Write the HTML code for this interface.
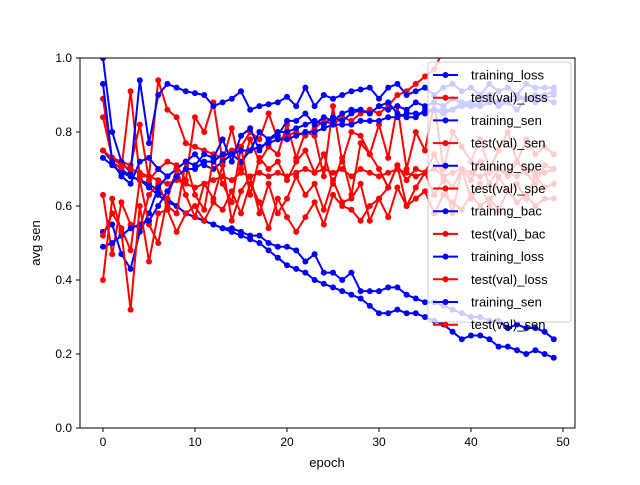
<!DOCTYPE html>
<html><head><meta charset="utf-8"><style>
body{margin:0;background:#fff}
svg{font-family:"Liberation Sans","DejaVu Sans",sans-serif}
</style></head><body>
<svg id="c" width="640" height="480" xmlns="http://www.w3.org/2000/svg">
<rect width="640" height="480" fill="#fff"/>
<defs><clipPath id="clip"><rect x="80" y="58" width="495" height="370"/></clipPath></defs>
<g id="plot" clip-path="url(#clip)"></g>
<rect x="80" y="58" width="495" height="370" fill="none" stroke="#000" stroke-width="1"/>
<g id="axes"></g>
<g id="legend"></g>
<text x="327" y="467" font-size="13" text-anchor="middle">epoch</text>
<text x="0" y="0" font-size="13" text-anchor="middle" transform="translate(40,243) rotate(-90)">avg sen</text>
</svg>
<script>
const epochs = Array.from({length:50},(_, i)=>i);
const xTicks = [0,10,20,30,40,50];
const yTicks = [0.0,0.2,0.4,0.6,0.8,1.0];
const yTickLabels = ["0.0","0.2","0.4","0.6","0.8","1.0"];
const legendLabels = ["training_loss","test(val)_loss","training_sen","test(val)_sen","training_spe","test(val)_spe","training_bac","test(val)_bac","training_loss","test(val)_loss","training_sen","test(val)_sen"];
const legendColors = ["blue","red","blue","red","blue","red","blue","red","blue","red","blue","red"];

const b1 = [0.75,0.72,0.70,0.68,0.67,0.65,0.63,0.61,0.60,0.58,0.57,0.56,0.55,0.54,0.53,0.52,0.51,0.50,0.48,0.46,0.44,0.43,0.42,0.40,0.39,0.38,0.37,0.36,0.35,0.33,0.31,0.31,0.32,0.31,0.31,0.30,0.29,0.28,0.26,0.24,0.25,0.25,0.24,0.22,0.22,0.21,0.20,0.21,0.20,0.19];
const b2 = [0.73,0.71,0.69,0.68,0.67,0.66,0.64,0.62,0.60,0.58,0.57,0.56,0.55,0.54,0.54,0.53,0.52,0.52,0.50,0.49,0.49,0.48,0.45,0.47,0.42,0.42,0.40,0.42,0.37,0.37,0.37,0.38,0.38,0.36,0.35,0.34,0.34,0.33,0.32,0.31,0.30,0.30,0.29,0.29,0.27,0.28,0.27,0.27,0.26,0.24];
const b3 = [1.00,0.80,0.72,0.69,0.94,0.77,0.90,0.93,0.92,0.91,0.905,0.90,0.87,0.88,0.89,0.91,0.86,0.87,0.875,0.88,0.895,0.87,0.92,0.87,0.90,0.89,0.90,0.91,0.915,0.92,0.89,0.92,0.93,0.90,0.91,0.92,0.90,0.92,0.93,0.91,0.92,0.90,0.93,0.91,0.92,0.90,0.93,0.92,0.92,0.92];
const b4 = [0.93,0.72,0.68,0.66,0.72,0.73,0.70,0.68,0.70,0.72,0.74,0.71,0.70,0.72,0.74,0.72,0.75,0.80,0.78,0.80,0.80,0.81,0.82,0.83,0.82,0.84,0.83,0.85,0.86,0.85,0.87,0.86,0.87,0.86,0.88,0.87,0.88,0.87,0.89,0.88,0.88,0.89,0.90,0.88,0.89,0.90,0.89,0.90,0.90,0.91];
const b5 = [0.53,0.55,0.47,0.43,0.53,0.58,0.65,0.68,0.70,0.72,0.71,0.74,0.73,0.78,0.72,0.79,0.81,0.75,0.78,0.79,0.83,0.83,0.85,0.82,0.84,0.83,0.85,0.86,0.86,0.85,0.87,0.88,0.85,0.84,0.84,0.86,0.86,0.85,0.86,0.88,0.87,0.88,0.89,0.87,0.88,0.86,0.89,0.88,0.89,0.88];
const b6 = [0.49,0.50,0.52,0.54,0.55,0.56,0.60,0.64,0.68,0.70,0.70,0.72,0.72,0.74,0.74,0.75,0.75,0.76,0.77,0.78,0.78,0.79,0.80,0.80,0.81,0.82,0.82,0.82,0.83,0.83,0.83,0.84,0.84,0.85,0.85,0.85,0.86,0.86,0.86,0.87,0.87,0.87,0.88,0.88,0.88,0.89,0.89,0.89,0.89,0.90];
const r1 = [0.89,0.72,0.70,0.91,0.68,0.68,0.94,0.86,0.84,0.77,0.76,0.75,0.74,0.73,0.75,0.76,0.80,0.78,0.85,0.78,0.79,0.80,0.79,0.81,0.83,0.82,0.84,0.83,0.85,0.86,0.85,0.87,0.90,0.91,0.93,0.95,0.97,1.02,1.06,1.10,1.12,1.14,1.16,1.18,1.20,1.22,1.24,1.26,1.28,1.30];
const r2 = [0.84,0.73,0.72,0.71,0.82,0.67,0.70,0.72,0.71,0.67,0.84,0.80,0.88,0.72,0.81,0.70,0.78,0.72,0.76,0.74,0.82,0.73,0.80,0.79,0.68,0.87,0.72,0.80,0.79,0.74,0.82,0.73,0.87,0.70,0.80,0.75,0.88,0.70,0.80,0.76,0.72,0.78,0.70,0.75,0.80,0.72,0.78,0.74,0.76,0.74];
const r3 = [0.75,0.73,0.71,0.70,0.69,0.68,0.67,0.66,0.67,0.66,0.65,0.66,0.67,0.68,0.67,0.69,0.68,0.69,0.68,0.69,0.68,0.69,0.70,0.69,0.70,0.69,0.70,0.68,0.70,0.69,0.68,0.69,0.70,0.69,0.68,0.69,0.70,0.68,0.69,0.70,0.69,0.68,0.69,0.70,0.69,0.68,0.70,0.69,0.69,0.70];
const r4 = [0.63,0.47,0.61,0.55,0.54,0.63,0.66,0.60,0.58,0.72,0.63,0.59,0.73,0.66,0.61,0.76,0.63,0.73,0.70,0.72,0.67,0.72,0.75,0.69,0.74,0.66,0.73,0.63,0.77,0.74,0.70,0.65,0.71,0.67,0.70,0.69,0.74,0.68,0.65,0.70,0.67,0.72,0.66,0.70,0.68,0.72,0.69,0.66,0.71,0.70];
const r5 = [0.52,0.58,0.54,0.48,0.67,0.55,0.50,0.62,0.70,0.63,0.57,0.66,0.62,0.71,0.56,0.64,0.68,0.58,0.66,0.58,0.62,0.68,0.63,0.66,0.59,0.67,0.61,0.62,0.66,0.56,0.62,0.65,0.71,0.60,0.65,0.69,0.63,0.67,0.58,0.70,0.62,0.66,0.60,0.68,0.64,0.66,0.62,0.68,0.65,0.66];
const r6 = [0.40,0.62,0.53,0.32,0.60,0.45,0.58,0.59,0.53,0.58,0.60,0.56,0.61,0.59,0.64,0.58,0.66,0.61,0.54,0.62,0.57,0.53,0.57,0.61,0.55,0.63,0.60,0.59,0.56,0.60,0.62,0.57,0.65,0.60,0.62,0.64,0.58,0.63,0.61,0.59,0.63,0.60,0.62,0.59,0.64,0.61,0.63,0.60,0.62,0.62];

const series = [[b1,"blue"],[r1,"red"],[b2,"blue"],[r2,"red"],[b3,"blue"],[r3,"red"],[b4,"blue"],[r4,"red"],[b5,"blue"],[r5,"red"],[b6,"blue"],[r6,"red"]];
const X = v => 103 + v*9.2;
const Y = v => 428 - v*370;
const NS = "http://www.w3.org/2000/svg";
const plot = document.getElementById('plot');
const axes = document.getElementById('axes');
const legend = document.getElementById('legend');
function mk(tag, attrs, parent){const e=document.createElementNS(NS,tag);for(const k in attrs)e.setAttribute(k,attrs[k]);parent.appendChild(e);return e;}

series.forEach(([vals,col],si)=>{
  const g = mk('g',{},plot);
  
  
  const pts = vals.map((v,i)=>X(epochs[i])+','+Y(v)).join(' ');
  const pl = mk('polyline',{points:pts,fill:'none',stroke:col,'stroke-width':2,'stroke-linejoin':'round'},g);
  
  
  vals.forEach((v,i)=>{
    const c = mk('circle',{cx:X(epochs[i]),cy:Y(v),r:3,fill:col},g);
    
    
  });
});

xTicks.forEach(t=>{
  const l = mk('line',{x1:X(t),x2:X(t),y1:428,y2:432,stroke:'#000'},axes);
  
  
  const tx = mk('text',{x:X(t),y:446,'font-size':12,'text-anchor':'middle'},axes);
  tx.textContent = String(t);
  
  
});
yTicks.forEach((t,i)=>{
  const l = mk('line',{x1:76,x2:80,y1:Y(t),y2:Y(t),stroke:'#000'},axes);
  
  
  const tx = mk('text',{x:72,y:Y(t)+4,'font-size':12,'text-anchor':'end'},axes);
  tx.textContent = yTickLabels[i];
  
  
});

const box = mk('rect',{x:428,y:62,width:143,height:260,rx:3,fill:'#fff','fill-opacity':0.8,stroke:'#ccc'},legend);


legendLabels.forEach((lab,i)=>{
  const y = 75 + i*22.7;
  const g = mk('g',{},legend);
  
  
  mk('line',{x1:433,x2:458,y1:y,y2:y,stroke:legendColors[i],'stroke-width':2},g);
  mk('circle',{cx:445.5,cy:y,r:3,fill:legendColors[i]},g);
  const t = mk('text',{x:471,y:y+4.5,'font-size':13},g);
  t.textContent = lab;
});
</script>
</body></html>
